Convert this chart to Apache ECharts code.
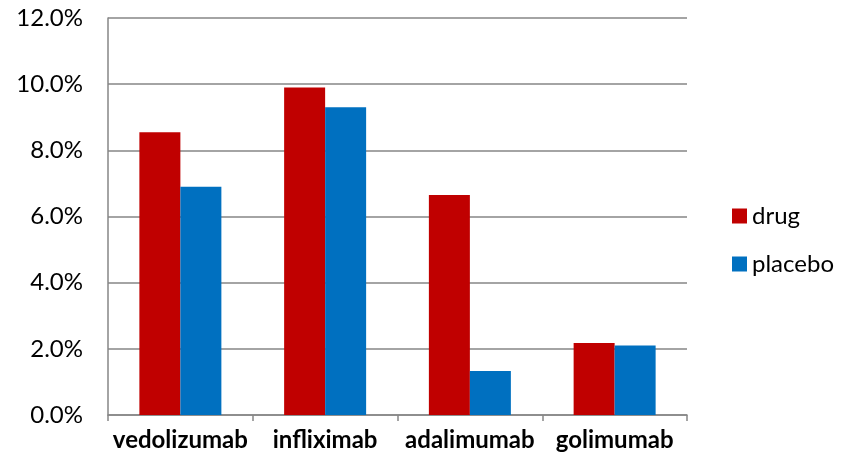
<!DOCTYPE html>
<html>
<head>
<meta charset="utf-8">
<script src="https://cdn.jsdelivr.net/npm/echarts@6/dist/echarts.min.js"></script>
<style>
  html, body { margin: 0; padding: 0; background: #fff; }
  #chart { width: 853px; height: 462px; }
</style>
</head>
<body>
<div id="chart"></div>
<script>
// categories and values (percent)
var drugs = ['vedolizumab', 'infliximab', 'adalimumab', 'golimumab'];
var drugValues = [8.55, 9.9, 6.65, 2.18];
var placeboValues = [6.9, 9.3, 1.33, 2.1];

var font = 'Lato, "Open Sans", sans-serif';
var chart = echarts.init(document.getElementById('chart'));

chart.setOption({
  animation: false,
  textStyle: { fontFamily: font },
  grid: { left: 108, right: 166, top: 18, bottom: 47 },
  legend: {
    orient: 'vertical',
    left: 727,
    top: 199,
    itemWidth: 15,
    itemHeight: 15,
    itemGap: 24,
    icon: 'rect',
    textStyle: { fontSize: 24, color: '#000', fontFamily: font },
    data: ['drug', 'placebo']
  },
  xAxis: {
    type: 'category',
    data: drugs,
    axisLine: { lineStyle: { color: '#868686', width: 1.5 } },
    axisTick: { show: true, length: 6, lineStyle: { color: '#868686', width: 1.5 } },
    axisLabel: {
      interval: 0, hideOverlap: false,
      fontSize: 24, fontWeight: 'bold', color: '#000', margin: 13, fontFamily: font
    }
  },
  yAxis: {
    type: 'value',
    min: 0,
    max: 12,
    interval: 2,
    axisLine: { show: true, lineStyle: { color: '#868686', width: 1.5 } },
    axisTick: { show: false },
    splitLine: { lineStyle: { color: '#868686', width: 1.5 } },
    axisLabel: {
      fontSize: 24, color: '#000', margin: 25, fontFamily: font,
      formatter: function (v) { return v.toFixed(1) + '%'; }
    }
  },
  series: [
    {
      name: 'drug',
      type: 'bar',
      data: drugValues,
      barWidth: 41,
      barGap: '0%',
      itemStyle: { color: '#C00000' }
    },
    {
      name: 'placebo',
      type: 'bar',
      data: placeboValues,
      barWidth: 41,
      itemStyle: { color: '#0070C0' }
    }
  ]
});
</script>
</body>
</html>
